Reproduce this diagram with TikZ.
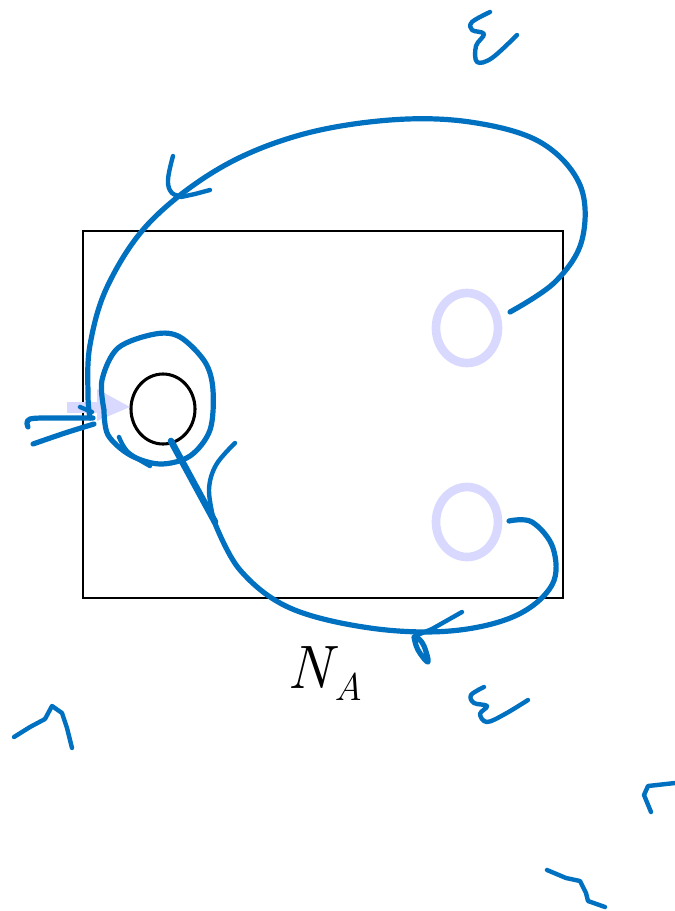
\documentclass[tikz,border=0pt]{standalone}
\usetikzlibrary{calc}
\definecolor{ink}{HTML}{0070C0}
\definecolor{lav}{HTML}{D9D9FF}
\tikzset{
  pen/.style={draw=ink,line width=3.9pt,line cap=round,line join=round},
  thinpen/.style={draw=ink,line width=3.3pt,line cap=round,line join=round},
  boldpen/.style={draw=ink,line width=5pt,line cap=round,line join=round},
  box/.style={draw=black,line width=1.5pt},
  hole/.style={draw=black,line width=2.3pt},
  ghost/.style={draw=lav,line width=6.5pt},
}
\begin{document}
\begin{tikzpicture}[x=0.75pt,y=-0.75pt]
\useasboundingbox (0,0) rectangle (675,911);
% box
\draw[box] (83,231) rectangle (563,598);
% lavender circles
\draw[ghost] (467,328) ellipse [x radius=31, y radius=35];
\draw[ghost] (467,522) ellipse [x radius=31, y radius=35];
% lavender arrow
\fill[lav] (67,402) rectangle (98,413);
\fill[lav] (97,389) -- (130,407) -- (97,421) -- cycle;
% black circle
\draw[hole] (163,409) ellipse [x radius=32, y radius=35];
% big upper curve
\draw[pen] plot[smooth,tension=0.6] coordinates {(510,312) (555,282) (582,240) (580,185) (540,142) (470,122) (390,120) (300,135) (220,168) (150,222) (108,285) (90,345) (88,395) (90,418)};
% arrowhead on upper curve
\draw[thinpen] plot[smooth,tension=0.7] coordinates {(173,156) (168,180) (172,193) (182,196)};
\draw[thinpen] (181,197) -- (195,194) -- (210,190);
% left arrow
\draw[pen] plot[smooth,tension=0.6] coordinates {(28,427) (30,419) (60,418) (93,418)};
\draw[pen] plot[smooth,tension=0.6] coordinates {(33,444) (65,433) (94,424)};
\draw[thinpen] (80,407) -- (92,412);
% inner loop
\draw[pen] plot[smooth,tension=0.55] coordinates {(104,410) (102,380) (118,348) (155,334) (180,337) (205,362) (213,390) (210,430) (190,456) (160,464) (130,455) (108,435) (104,410)};
\draw[thinpen] plot[smooth,tension=0.6] coordinates {(119,437) (128,452) (150,466)};
% tail from black circle
\draw[boldpen] (171,441) -- (215,522);
\draw[thinpen] plot[smooth,tension=0.6] coordinates {(235,443) (216,465) (209,490) (214,521)};
% big lower curve
\draw[pen] plot[smooth,tension=0.6] coordinates {(214,521) (240,570) (290,608) (370,628) (450,631) (515,616) (552,585) (553,548) (532,522) (509,521)};
% arrowhead on lower curve
\draw[thinpen] (462,612) -- (432,629) -- (415,636);
\draw[pen] plot[smooth,tension=0.7] coordinates {(414,637) (418,650) (428,662) (424,646) (418,638)};
% label
\node[anchor=base west,inner sep=0pt] (lbl) at (287,688) {\fontsize{46}{50}\selectfont\itshape N\kern2pt\raisebox{-9pt}{\fontsize{29}{32}\selectfont A}};
% epsilon top
\draw[thinpen] plot[smooth,tension=0.6] coordinates {(490,12) (472,22) (472,30) (484,34) (476,46) (477,62) (492,58) (517,35)};
% epsilon bottom
\draw[thinpen] plot[smooth,tension=0.6] coordinates {(484,687) (471,695) (474,703) (487,706) (480,714) (487,722) (505,714) (528,700)};
% corner marks
\draw[thinpen] (14,737) -- (30,727) -- (45,719) -- (52,706) -- (62,713) -- (67,728) -- (72,748);
\draw[thinpen] (675,783) -- (648,786) -- (644,795) -- (651,812);
\draw[thinpen] (547,870) -- (566,878) -- (580,881) -- (586,893) -- (588,901) -- (605,907);
\end{tikzpicture}
\end{document}
